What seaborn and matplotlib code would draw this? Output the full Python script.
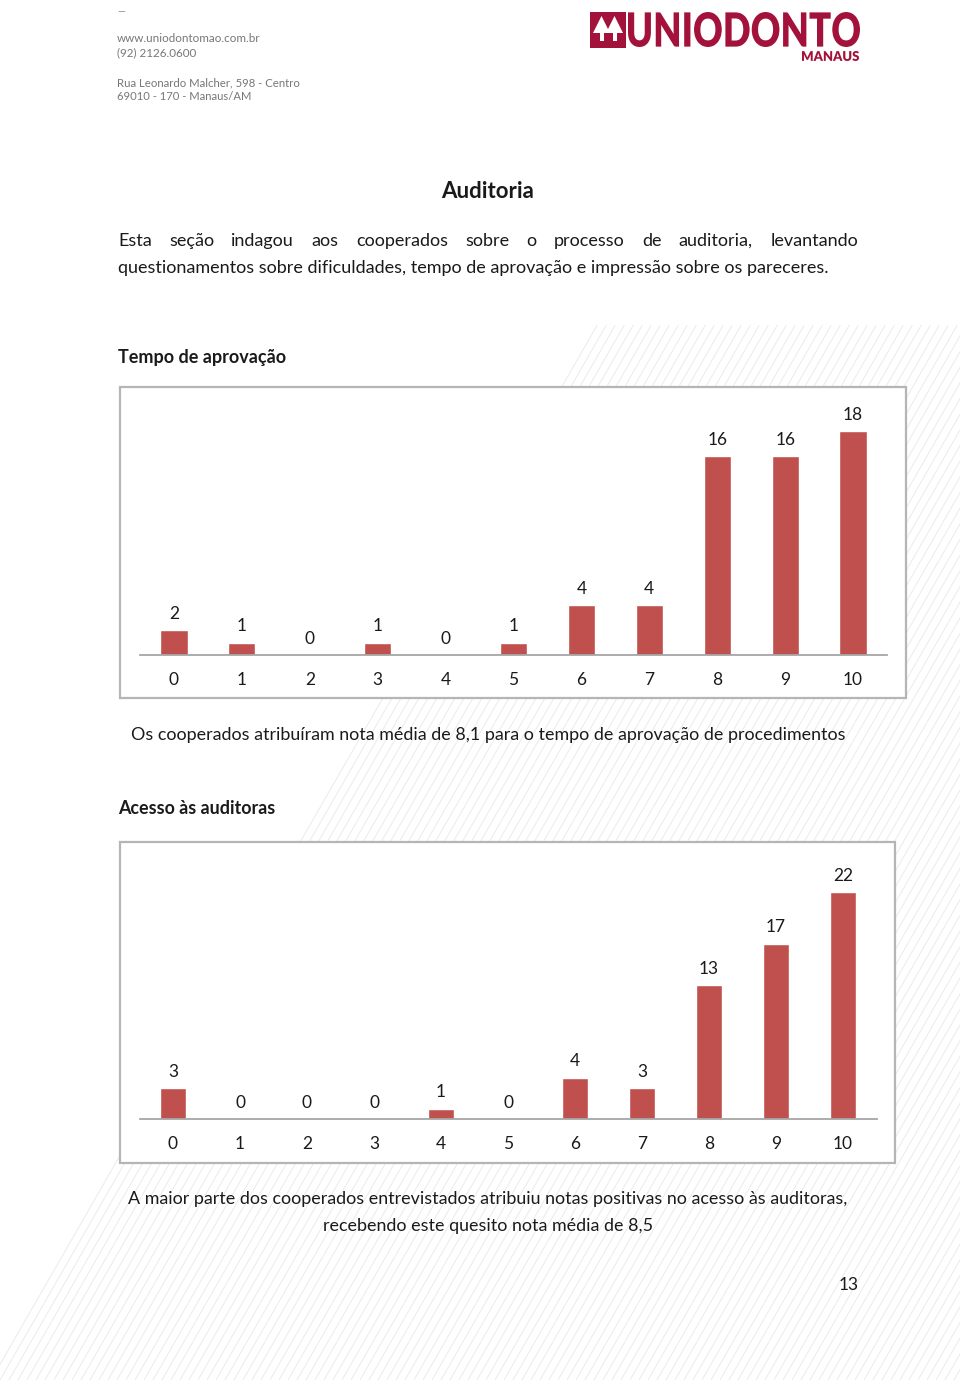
import numpy as np
import pandas as pd
import matplotlib
matplotlib.use('Agg')
import matplotlib.pyplot as plt
import seaborn as sns
from matplotlib.patches import Rectangle, Polygon, PathPatch
from matplotlib.collections import LineCollection
from matplotlib.textpath import TextPath
from matplotlib.font_manager import FontProperties
from matplotlib.transforms import Affine2D

# data
notas = ['0', '1', '2', '3', '4', '5', '6', '7', '8', '9', '10']
tempo_aprovacao = [2, 1, 0, 1, 0, 1, 4, 4, 16, 16, 18]
acesso_auditoras = [3, 0, 0, 0, 1, 0, 4, 3, 13, 17, 22]

BAR = '#C0504D'
LOGO = '#A3123A'
W, H = 960, 1380
DY = 2  # va='center' sits a little high, nudge text down

sns.set_theme(style='white')
plt.rcParams['font.family'] = ['Lato', 'DejaVu Sans']

fig = plt.figure(figsize=(W / 100, H / 100), dpi=100)
fig.patch.set_facecolor('white')

# page canvas in pixel units (y down)
bg = fig.add_axes([0, 0, 1, 1])
bg.set_xlim(0, W)
bg.set_ylim(H, 0)
bg.axis('off')
renderer = fig.canvas.get_renderer()

# faint diagonal decoration in the background
band = Polygon([(593, 325), (W, 325), (W, H), (-15, H)], closed=True,
               fc='none', ec='none', transform=bg.transData)
bg.add_patch(band)
segs = [[(x0, H), (x0 + H / 1.74, 0)] for x0 in np.arange(-900, W + 20, 9)]
lc = LineCollection(segs, colors='#ebebeb', linewidths=0.7, zorder=1)
bg.add_collection(lc)
lc.set_clip_path(band)


def put(x, y, s, size, ha='left', weight='normal', color='#1a1a1a', width=None):
    t = bg.text(x, y + DY, s, fontsize=size, ha=ha, va='center', fontweight=weight,
                color=color, zorder=5)
    if width is not None:
        w = t.get_window_extent(renderer=renderer).width
        t.set_fontsize(size * width / w)
    return t


def justify(x0, x1, y, s, size):
    words = s.split()
    widths = []
    for wd in words:
        t = bg.text(0, 0, wd, fontsize=size)
        widths.append(t.get_window_extent(renderer=renderer).width)
        t.remove()
    gap = (x1 - x0 - sum(widths)) / (len(words) - 1)
    x = x0
    for wd, w in zip(words, widths):
        bg.text(x, y + DY, wd, fontsize=size, ha='left', va='center', color='#1a1a1a', zorder=5)
        x += w + gap


def path_text(s, x0, y0, x1, y1, color, weight='heavy'):
    tp = TextPath((0, 0), s, size=100, prop=FontProperties(family='Lato', weight=weight))
    bb = tp.get_extents()
    tr = (Affine2D().translate(-bb.x0, -bb.y0)
          .scale((x1 - x0) / bb.width, -(y1 - y0) / bb.height)
          .translate(x0, y1))
    bg.add_patch(PathPatch(tr.transform_path(tp), fc=color, ec='none', zorder=5))


# header
put(117, 10, '—', 7, color='#888888')
put(117, 36, 'www.uniodontomao.com.br', 8.5, color='#777777', width=143)
put(117, 51, '(92) 2126.0600', 8.5, color='#777777', width=79)
put(117, 81, 'Rua Leonardo Malcher, 598 - Centro', 8.5, color='#777777', width=184)
put(117, 95, '69010 - 170 - Manaus/AM', 8.5, color='#777777', width=135)

# logo
bg.add_patch(Rectangle((590, 12), 36, 36, fc=LOGO, ec='none', zorder=5))
bg.add_patch(Polygon([(593, 33), (601.5, 16), (610, 33)], fc='white', ec='none', zorder=6))
bg.add_patch(Polygon([(606, 33), (614.5, 16), (623, 33)], fc='white', ec='none', zorder=6))
bg.add_patch(Rectangle((599.5, 33), 4, 8, fc='white', ec='none', zorder=6))
bg.add_patch(Rectangle((612.5, 33), 4, 8, fc='white', ec='none', zorder=6))
path_text('UNIODONTO', 628, 12, 860, 47, LOGO)
path_text('MANAUS', 802, 51, 859, 61, LOGO)

# body text
put(488, 190, 'Auditoria', 15, ha='center', weight='bold', width=93)
l2 = put(118, 266, 'questionamentos sobre dificuldades, tempo de aprovação e impressão sobre os pareceres.',
         12, width=708)
justify(118, 858, 239,
        'Esta seção indagou aos cooperados sobre o processo de auditoria, levantando',
        l2.get_fontsize())
put(118, 355, 'Tempo de aprovação', 12, weight='bold', width=167)
put(488, 733, 'Os cooperados atribuíram nota média de 8,1 para o tempo de aprovação de procedimentos',
    12, ha='center', width=713)
put(118, 807, 'Acesso às auditoras', 12, weight='bold', width=156)
put(488, 1197, 'A maior parte dos cooperados entrevistados atribuiu notas positivas no acesso às auditoras,',
    12, ha='center', width=715)
put(488, 1224, 'recebendo este quesito nota média de 8,5', 12, ha='center', width=329)
put(849, 1283, '13', 12.5, ha='center')

# chart frames
bg.add_patch(Rectangle((120, 387), 786, 311, fc='white', ec='#b5b5b5', lw=1.6, zorder=2))
bg.add_patch(Rectangle((120, 842), 775, 321, fc='white', ec='#b5b5b5', lw=1.6, zorder=2))


def px_axes(l, t, r, b):
    return fig.add_axes([l / W, 1 - b / H, (r - l) / W, (b - t) / H])


def bar_chart(ax, values, ymax):
    df = pd.DataFrame({'nota': notas, 'qtd': values})
    sns.barplot(data=df, x='nota', y='qtd', color=BAR, saturation=1, width=0.4, ax=ax)
    ax.patch.set_alpha(0)
    ax.set_xlim(-0.5, len(notas) - 0.5)
    ax.set_ylim(0, ymax)
    ax.bar_label(ax.containers[0], padding=6, fontsize=12.5, color='#1a1a1a')
    for side in ['top', 'left', 'right']:
        ax.spines[side].set_visible(False)
    ax.spines['bottom'].set_color('#a6a6a6')
    ax.spines['bottom'].set_linewidth(1.3)
    ax.set_yticks([])
    ax.tick_params(axis='x', length=0, pad=12, labelsize=12.5, labelcolor='#1a1a1a')
    ax.set_xlabel('')
    ax.set_ylabel('')


ax1 = px_axes(140, 400, 887, 655)
bar_chart(ax1, tempo_aprovacao, (655 - 400) / 12.44)

ax2 = px_axes(139.5, 860, 876.5, 1119)
bar_chart(ax2, acesso_auditoras, (1119 - 860) / 10.32)

fig.savefig('out.png', dpi=100, facecolor='white')
